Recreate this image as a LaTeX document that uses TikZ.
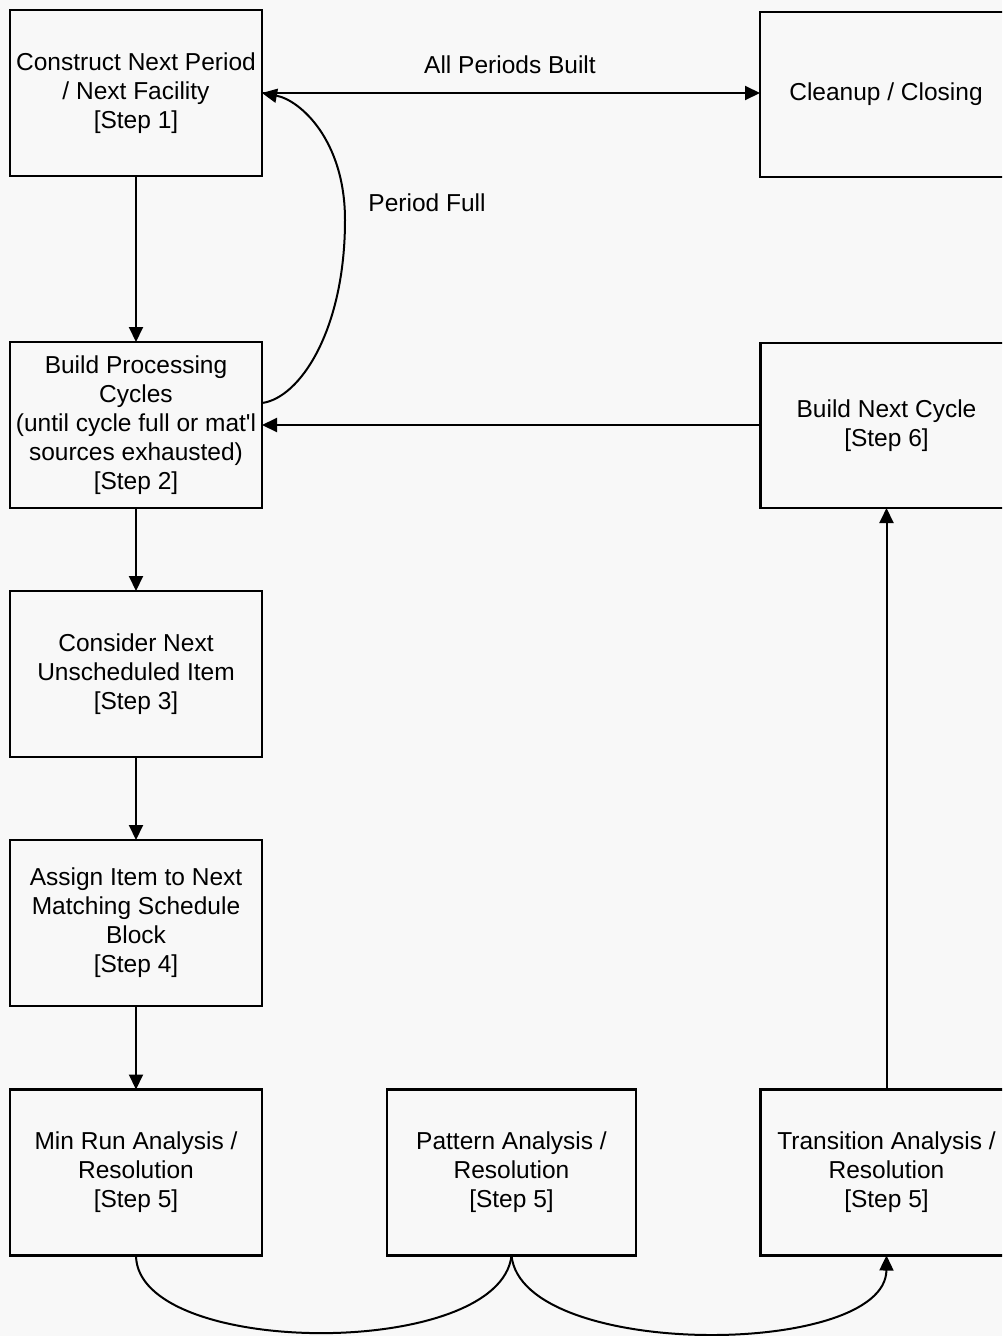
\documentclass[tikz,border=0pt]{standalone}
\usepackage{fontspec}
\setmainfont{Liberation Sans}
\usetikzlibrary{arrows.meta,calc}
\begin{document}
\begin{tikzpicture}[x=1pt,y=-1pt,
  stepbox/.style={draw=black,line width=2.3pt,minimum width=252pt,minimum height=166pt,
    align=center,inner sep=0pt,outer sep=0pt,
    font=\fontsize{24.5}{29}\selectfont},
  lbl/.style={font=\fontsize{24.5}{29}\selectfont,inner sep=0pt},
  arr/.style={line width=2pt,-{Triangle[length=15pt,width=14pt]}},
  lnk/.style={line width=2pt}]
\fill[fill={rgb,255:red,248;green,248;blue,248}] (0,0) rectangle (1002,1336);
\useasboundingbox (0,0) rectangle (1002,1336);
\clip (0,0) rectangle (1002,1336);

% left column
\node[stepbox] (b1) at (136,93) {Construct Next Period\\/ Next Facility\\{}[Step 1]};
\node[stepbox] (b2) at (136,425) {Build Processing\\Cycles\\(until cycle full or mat\textquotesingle l\\sources exhausted)\\{}[Step 2]};
\node[stepbox] (b3) at (136,674) {Consider Next\\Unscheduled Item\\{}[Step 3]};
\node[stepbox] (b4) at (136,923) {Assign Item to Next\\Matching Schedule\\Block\\{}[Step 4]};
\node[stepbox] (b5a) at (136,1172.5) {Min Run Analysis /\\Resolution\\{}[Step 5]};

% middle and right columns
\node[stepbox,minimum width=249pt] (b5b) at (511.5,1172.5) {Pattern Analysis /\\Resolution\\{}[Step 5]};
\node[stepbox] (b5c) at (886.5,1172.5) {Transition Analysis /\\Resolution\\{}[Step 5]};
\node[stepbox,minimum height=165pt] (bnext) at (886.5,425.5) {Build Next Cycle\\{}[Step 6]};
\node[stepbox,minimum height=165pt] (clean) at (886,94.5) {Cleanup / Closing};

% labels
\node[lbl] (lall) at (510,65) {All Periods Built};
\node[lbl] (lfull) at (427,203) {Period Full};

% connectors
\draw[arr] (b1.east) -- (clean.west |- b1.east);
\draw[arr] ($(b2.east)+(0,-22)$) .. controls (300,398) and (345,330) .. (345,220)
  .. controls (345,140) and (300,100) .. (b1.east);
\draw[arr] (bnext.west |- b2.east) -- (b2.east);
\draw[arr] (b1.south) -- (b2.north);
\draw[arr] (b2.south) -- (b3.north);
\draw[arr] (b3.south) -- (b4.north);
\draw[arr] (b4.south) -- (b5a.north);
\draw[arr] (b5c.north) -- (bnext.south);
\draw[lnk] (b5a.south) .. controls (137,1358) and (500,1360) .. (b5b.south);
\draw[arr] (b5b.south) .. controls (522,1360) and (886,1358) .. (b5c.south);
\end{tikzpicture}
\end{document}
